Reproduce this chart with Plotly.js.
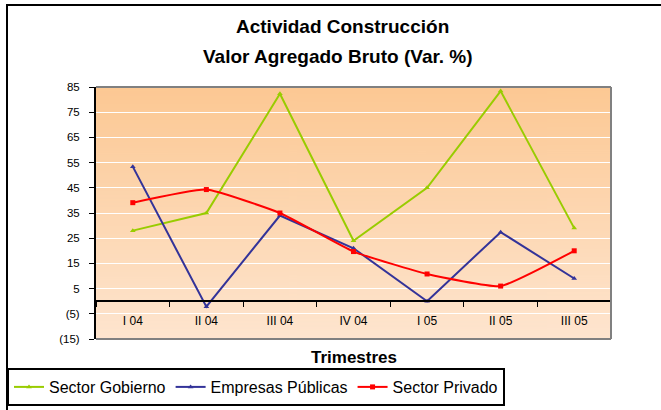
<!DOCTYPE html>
<html>
<head>
<meta charset="utf-8">
<script src="https://cdn.plot.ly/plotly-3.0.1.min.js"></script>
<style>html,body{margin:0;padding:0;background:#fff;}#chart{width:661px;height:410px;}</style>
</head>
<body>
<div id="chart"></div>
<script>
// ---- data ----
const categories = ["I 04", "II 04", "III 04", "IV 04", "I 05", "II 05", "III 05"];
const sectorGobierno = [28, 35, 82.3, 24, 45, 83.4, 29];
const empresasPublicas = [53.4, -2.2, 34, 21, 0, 27.4, 9];
const sectorPrivado = [39.1, 44.3, 35, 19.7, 10.8, 6, 20];
const yTickVals = [-15, -5, 5, 15, 25, 35, 45, 55, 65, 75, 85];
const yTickText = ["(15)", "(5)", "5", "15", "25", "35", "45", "55", "65", "75", "85"];
const titleLines = ["Actividad Construcción", "Valor Agregado Bruto (Var. %)"];
const xTitle = "Trimestres";

const FONT = "'Liberation Sans', Arial, sans-serif";
const W = 661, H = 410;
const M = {l: 96, r: 50, t: 87, b: 71};
const PW = W - M.l - M.r, PH = H - M.t - M.b;
const px = v => (v - M.l) / PW;
const py = v => 1 - (v - M.t) / PH;

// gradient background image
const cv = document.createElement('canvas');
cv.width = 4; cv.height = 256;
const ctx = cv.getContext('2d');
const g = ctx.createLinearGradient(0, 0, 0, 256);
g.addColorStop(0, '#FCC893');
g.addColorStop(1, '#FEE5CF');
ctx.fillStyle = g; ctx.fillRect(0, 0, 4, 256);
const bg = cv.toDataURL();

const xs = categories.map((c, i) => i);
const yMin = yTickVals[0], yMax = yTickVals[yTickVals.length - 1];

const traces = [
  {x: xs, y: sectorGobierno, name: "Sector Gobierno", mode: "lines+markers",
   line: {color: "#99CC00", width: 2}, marker: {symbol: "triangle-up", size: 5, color: "#99CC00"}},
  {x: xs, y: empresasPublicas, name: "Empresas Públicas", mode: "lines+markers",
   line: {color: "#333399", width: 2}, marker: {symbol: "triangle-up", size: 5, color: "#333399"}},
  {x: xs, y: sectorPrivado, name: "Sector Privado", mode: "lines+markers",
   line: {color: "#FF0000", width: 2, shape: "spline", smoothing: 0.4}, marker: {symbol: "square", size: 5, color: "#FF0000"}}
];

const layout = {
  width: W, height: H,
  margin: M,
  paper_bgcolor: "#ffffff",
  plot_bgcolor: "rgba(0,0,0,0)",
  font: {family: FONT, color: "#000", size: 11.5},
  xaxis: {
    range: [-0.5, categories.length - 0.5],
    tickmode: "array", tickvals: xs, ticktext: categories,
    ticks: "outside", ticklen: 8, tickcolor: "rgba(0,0,0,0)",
    minor: {tickmode: "linear", tick0: -0.5, dtick: 1, ticks: "outside", ticklen: 5, tickwidth: 1, tickcolor: "#000", showgrid: false},
    showgrid: false, zeroline: false,
    showline: true, linecolor: "#000", linewidth: 2,
    anchor: "free", position: (0 - yMin) / (yMax - yMin),
    tickfont: {family: FONT, size: 12, color: "#000"},
    fixedrange: true
  },
  yaxis: {
    range: [yMin, yMax],
    tickmode: "array", tickvals: yTickVals, ticktext: yTickText,
    ticks: "outside", ticklen: 5, tickcolor: "#000", tickwidth: 1,
    ticklabelstandoff: 7,
    showgrid: true, gridcolor: "#ffffff", gridwidth: 1,
    zeroline: false,
    showline: true, linecolor: "#000", linewidth: 2,
    tickfont: {family: FONT, size: 11.5, color: "#000"},
    fixedrange: true
  },
  images: [{source: bg, xref: "paper", yref: "paper", x: 0, y: 1, sizex: 1, sizey: 1,
            sizing: "stretch", xanchor: "left", yanchor: "top", layer: "below"}],
  shapes: [
    // plot area border (top, right, bottom) grey
    {type: "line", xref: "paper", yref: "paper", x0: 0, x1: 1, y0: 1, y1: 1, line: {color: "#808080", width: 2}},
    {type: "line", xref: "paper", yref: "paper", x0: 1, x1: 1, y0: 0, y1: 1, line: {color: "#808080", width: 2}},
    {type: "line", xref: "paper", yref: "paper", x0: 0, x1: 1, y0: 0, y1: 0, line: {color: "#808080", width: 2}},
    // outer chart border (left, top)
    {type: "line", xref: "paper", yref: "paper", x0: px(7), x1: px(7), y0: py(4), y1: py(420), line: {color: "#000", width: 2}},
    {type: "line", xref: "paper", yref: "paper", x0: px(6), x1: px(670), y0: py(5), y1: py(5), line: {color: "#000", width: 2}}
  ],
  annotations: [
    {text: "<b>" + titleLines[0] + "</b>", xref: "paper", yref: "paper",
     x: px(342), y: py(27), xanchor: "center", yanchor: "middle",
     showarrow: false, font: {family: FONT, size: 19, color: "#000"}},
    {text: "<b>" + titleLines[1] + "</b>", xref: "paper", yref: "paper",
     x: px(338), y: py(56), xanchor: "center", yanchor: "middle",
     showarrow: false, font: {family: FONT, size: 19, color: "#000"}},
    {text: "<b>" + xTitle + "</b>", xref: "paper", yref: "paper", x: 0.5, y: py(357), xanchor: "center", yanchor: "middle",
     showarrow: false, font: {family: FONT, size: 17, color: "#000"}}
  ],
  showlegend: true,
  legend: {
    orientation: "h", xref: "container", yref: "container",
    x: 7 / W, xanchor: "left", y: 1 - 368 / H, yanchor: "top",
    bordercolor: "#000", borderwidth: 2, bgcolor: "#ffffff",
    font: {family: FONT, size: 16, color: "#000"},
    itemwidth: 30, tracegroupgap: 0
  }
};

Plotly.newPlot("chart", traces, layout, {displayModeBar: false, staticPlot: true});
</script>
</body>
</html>
